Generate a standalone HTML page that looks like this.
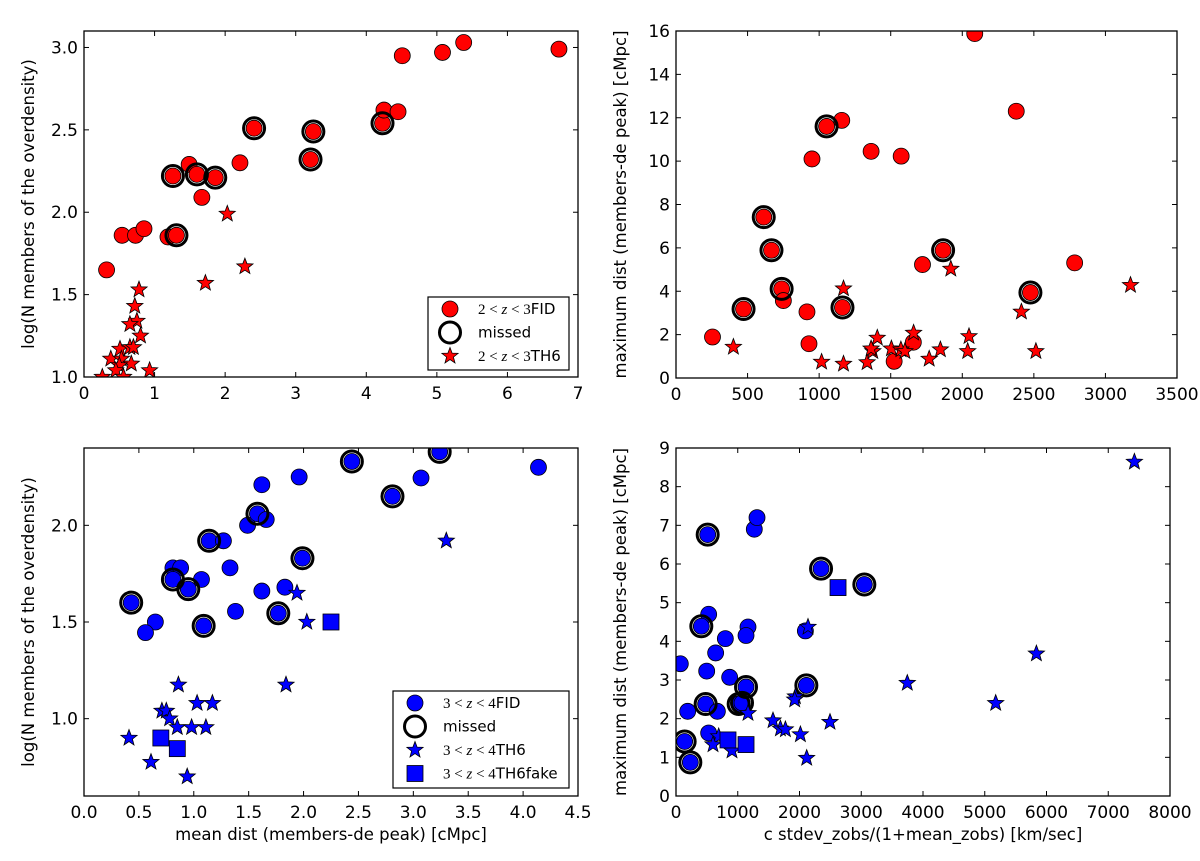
<!DOCTYPE html>
<html><head><meta charset="utf-8">
<style>
html,body{margin:0;padding:0;background:#fff;}
svg text{font-family:"DejaVu Sans","Liberation Sans",sans-serif;fill:#000;}
</style></head>
<body>
<svg id="fig" width="1200" height="856" viewBox="0 0 1200 856" xmlns="http://www.w3.org/2000/svg"></svg>
<script>
// ---------- Panel A (top-left) ----------
const aFidX=[0.32,0.54,0.73,0.85,1.19,1.31,1.26,1.49,1.60,1.86,1.67,2.21,2.41,3.21,3.25,4.23,4.25,4.45,4.51,5.08,5.38,6.73];
const aFidY=[1.65,1.86,1.86,1.90,1.85,1.86,2.22,2.29,2.23,2.21,2.09,2.30,2.51,2.32,2.49,2.54,2.62,2.61,2.95,2.97,3.03,2.99];
const aMissX=[1.31,1.26,1.60,1.86,2.41,3.21,3.25,4.23];
const aMissY=[1.86,2.22,2.23,2.21,2.51,2.32,2.49,2.54];
const aThX=[2.03,2.28,1.72,0.78,0.72,0.75,0.65,0.80,0.51,0.65,0.70,0.38,0.53,0.67,0.50,0.45,0.93,0.26,0.56];
const aThY=[1.99,1.67,1.57,1.53,1.43,1.34,1.32,1.25,1.17,1.18,1.18,1.11,1.11,1.08,1.07,1.04,1.04,1.00,1.00];
const aXTicks=[0,1,2,3,4,5,6,7];
const aXLabels=["0","1","2","3","4","5","6","7"];
const aYTicks=[1.0,1.5,2.0,2.5,3.0];
const aYLabels=["1.0","1.5","2.0","2.5","3.0"];
// ---------- Panel B (top-right) ----------
const bFidX=[255,472,613,667,738,750,915,929,950,1052,1158,1163,1363,1524,1573,1658,1722,1866,2087,2377,2476,2785];
const bFidY=[1.89,3.18,7.42,5.89,4.11,3.57,3.05,1.58,10.1,11.6,11.88,3.25,10.45,0.77,10.23,1.65,5.23,5.89,15.88,12.3,3.94,5.31];
const bMissX=[472,613,667,738,1052,1163,1866,2476];
const bMissY=[3.18,7.42,5.89,4.11,11.6,3.25,5.89,3.94];
const bThX=[401,1017,1170,1170,1335,1375,1406,1363,1505,1571,1599,1660,1769,1847,1920,2038,2047,2413,2514,3175];
const bThY=[1.43,0.74,0.65,4.12,0.72,1.23,1.85,1.35,1.35,1.31,1.23,2.08,0.88,1.31,5.03,1.23,1.92,3.05,1.23,4.28];
const bXTicks=[0,500,1000,1500,2000,2500,3000,3500];
const bXLabels=["0","500","1000","1500","2000","2500","3000","3500"];
const bYTicks=[0,2,4,6,8,10,12,14,16];
const bYLabels=["0","2","4","6","8","10","12","14","16"];
// ---------- Panel C (bottom-left) ----------
const cFidX=[0.43,0.65,0.56,0.81,0.88,0.81,0.95,1.07,1.14,1.27,1.33,1.38,1.09,1.49,1.62,1.58,1.66,1.62,1.83,1.77,1.96,1.99,2.44,2.81,3.07,3.24,4.14];
const cFidY=[1.60,1.50,1.445,1.78,1.78,1.72,1.67,1.72,1.92,1.92,1.78,1.555,1.48,2.00,2.21,2.06,2.03,1.66,1.68,1.545,2.25,1.83,2.33,2.15,2.245,2.38,2.30];
const cMissX=[0.43,0.81,0.95,1.14,1.09,1.58,1.77,1.99,2.44,2.81,3.24];
const cMissY=[1.60,1.72,1.67,1.92,1.48,2.06,1.545,1.83,2.33,2.15,2.38];
const cThX=[3.30,1.94,2.03,1.84,0.86,1.03,1.17,0.71,0.75,0.78,0.85,0.98,1.11,0.41,0.61,0.94];
const cThY=[1.92,1.65,1.50,1.175,1.175,1.08,1.08,1.04,1.04,1.00,0.955,0.955,0.955,0.90,0.775,0.70];
const cFakeX=[0.70,0.85,2.25];
const cFakeY=[0.90,0.845,1.50];
const cXTicks=[0,0.5,1,1.5,2,2.5,3,3.5,4,4.5];
const cXLabels=["0.0","0.5","1.0","1.5","2.0","2.5","3.0","3.5","4.0","4.5"];
const cYTicks=[1.0,1.5,2.0];
const cYLabels=["1.0","1.5","2.0"];
// ---------- Panel D (bottom-right) ----------
const dFidX=[70,513,1268,1312,529,410,1166,1134,799,642,497,869,1134,480,670,189,1015,1069,529,140,232,2095,2111,2349,3050];
const dFidY=[3.42,6.76,6.90,7.20,4.70,4.39,4.37,4.15,4.07,3.70,3.23,3.07,2.82,2.38,2.19,2.19,2.38,2.41,1.63,1.41,0.87,4.27,2.86,5.88,5.47];
const dMissX=[513,410,1134,480,1015,1069,140,232,2111,2349,3050];
const dMissY=[6.76,4.39,2.82,2.38,2.38,2.41,1.41,0.87,2.86,5.88,5.47];
const dThX=[7423,5836,3746,5177,2494,2138,1933,1922,1571,1690,1771,2014,2116,1166,691,599,907];
const dThY=[8.64,3.68,2.92,2.40,1.91,4.37,2.57,2.49,1.95,1.74,1.72,1.59,0.98,2.14,1.54,1.33,1.17];
const dFakeX=[842,1134,2624];
const dFakeY=[1.45,1.33,5.39];
const dXTicks=[0,1000,2000,3000,4000,5000,6000,7000,8000];
const dXLabels=["0","1000","2000","3000","4000","5000","6000","7000","8000"];
const dYTicks=[0,1,2,3,4,5,6,7,8,9];
const dYLabels=["0","1","2","3","4","5","6","7","8","9"];

const NS="http://www.w3.org/2000/svg";
const fig=document.getElementById('fig');
function mk(tag,attrs,parent){const e=document.createElementNS(NS,tag);for(const k in attrs)e.setAttribute(k,attrs[k]);(parent||fig).appendChild(e);return e;}
function starPts(cx,cy,R){const r=R*0.42;let p=[];for(let i=0;i<10;i++){const a=-Math.PI/2+i*Math.PI/5;const rr=i%2?r:R;p.push((cx+rr*Math.cos(a)).toFixed(1)+','+(cy+rr*Math.sin(a)).toFixed(1));}return p.join(' ');}

function panel(id,L,T,W,H,xmin,xmax,ymin,ymax,xt,xl,yt,yl,color,series,ylabel,xlabel){
  const sx=v=>L+(v-xmin)/(xmax-xmin)*W;
  const sy=v=>T+H-(v-ymin)/(ymax-ymin)*H;
  const g=mk('g',{});
  
  
  const cp=mk('clipPath',{id:'clip-'+id},g);
  mk('rect',{x:L,y:T,width:W,height:H},cp);
  const pg=mk('g',{'clip-path':'url(#clip-'+id+')'},g);
  
  
  // FID
  series.fidX.forEach((x,i)=>{const c=mk('circle',{cx:sx(x),cy:sy(series.fidY[i]),r:8,fill:color,stroke:'#000','stroke-width':0.8},pg);
    
    });
  series.missX.forEach((x,i)=>{const c=mk('circle',{cx:sx(x),cy:sy(series.missY[i]),r:10.5,fill:'none',stroke:'#000','stroke-width':3},pg);
    
    });
  series.thX.forEach((x,i)=>{const s=mk('polygon',{points:starPts(sx(x),sy(series.thY[i]),8.5),fill:color,stroke:'#000','stroke-width':0.8},pg);
    
    });
  if(series.fakeX) series.fakeX.forEach((x,i)=>{const s=mk('rect',{x:sx(x)-8,y:sy(series.fakeY[i])-8,width:16,height:16,fill:color,stroke:'#000','stroke-width':0.8},pg);
    
    });
  // frame
  const fr=mk('rect',{x:L,y:T,width:W,height:H,fill:'none',stroke:'#000','stroke-width':1.3},g);
  
  
  xt.forEach((v,i)=>{const x=sx(v);
    mk('line',{x1:x,y1:T+H,x2:x,y2:T+H-5,stroke:'#000','stroke-width':1},g);
    mk('line',{x1:x,y1:T,x2:x,y2:T+5,stroke:'#000','stroke-width':1},g);
    const t=mk('text',{x:x,y:T+H+22,'font-size':17,'text-anchor':'middle'},g);t.textContent=xl[i];
    
    });
  yt.forEach((v,i)=>{const y=sy(v);
    mk('line',{x1:L,y1:y,x2:L+5,y2:y,stroke:'#000','stroke-width':1},g);
    mk('line',{x1:L+W,y1:y,x2:L+W-5,y2:y,stroke:'#000','stroke-width':1},g);
    const t=mk('text',{x:L-6,y:y+6,'font-size':17,'text-anchor':'end'},g);t.textContent=yl[i];
    
    });
  const yl2=mk('text',{x:0,y:0,'font-size':16.5,'text-anchor':'middle',transform:'translate('+(L-50)+','+(T+H/2)+') rotate(-90)'},g);
  yl2.textContent=ylabel;
  
  
  if(xlabel){const xl2=mk('text',{x:L+W/2,y:T+H+44,'font-size':16.5,'text-anchor':'middle'},g);xl2.textContent=xlabel;
    
    }
}

panel('top-left',84,31,494,346,0,7,1.0,3.1,aXTicks,aXLabels,aYTicks,aYLabels,'#ff0000',
  {fidX:aFidX,fidY:aFidY,missX:aMissX,missY:aMissY,thX:aThX,thY:aThY},'log(N members of the overdensity)',null);
panel('top-right',676,31,501,347,0,3500,0,16,bXTicks,bXLabels,bYTicks,bYLabels,'#ff0000',
  {fidX:bFidX,fidY:bFidY,missX:bMissX,missY:bMissY,thX:bThX,thY:bThY},'maximum dist (members-de peak) [cMpc]',null);
panel('bottom-left',84,448,494,348,0,4.5,0.6,2.4,cXTicks,cXLabels,cYTicks,cYLabels,'#0000ff',
  {fidX:cFidX,fidY:cFidY,missX:cMissX,missY:cMissY,thX:cThX,thY:cThY,fakeX:cFakeX,fakeY:cFakeY},'log(N members of the overdensity)','mean dist (members-de peak) [cMpc]');
panel('bottom-right',676,448,494,348,0,8000,0,9,dXTicks,dXLabels,dYTicks,dYLabels,'#0000ff',
  {fidX:dFidX,fidY:dFidY,missX:dMissX,missY:dMissY,thX:dThX,thY:dThY,fakeX:dFakeX,fakeY:dFakeY},'maximum dist (members-de peak) [cMpc]','c stdev_zobs/(1+mean_zobs) [km/sec]');

function legend(name,x,y,w,h,entries,color){
  const g=mk('g',{});
  
  
  mk('rect',{x:x,y:y,width:w,height:h,fill:'#fff',stroke:'#000','stroke-width':1.2},g);
  entries.forEach((e,i)=>{const cy=y+12+i*23.5, mx=x+22;
    const eg=mk('g',{},g);
    
    
    if(e.m==='c') mk('circle',{cx:mx,cy:cy,r:8,fill:color,stroke:'#000','stroke-width':0.8},eg);
    if(e.m==='r') mk('circle',{cx:mx,cy:cy,r:10.5,fill:'none',stroke:'#000','stroke-width':3},eg);
    if(e.m==='s') mk('polygon',{points:starPts(mx,cy,8.5),fill:color,stroke:'#000','stroke-width':0.8},eg);
    if(e.m==='q') mk('rect',{x:mx-8,y:cy-8,width:16,height:16,fill:color,stroke:'#000','stroke-width':0.8},eg);
    const t=mk('text',{x:x+50,y:cy+5,'font-size':15},eg);
    if(e.z){const a=mk('tspan',{'font-family':'Liberation Serif, serif'},t);a.textContent=e.z[0]+' < ';
      const z=mk('tspan',{'font-family':'Liberation Serif, serif','font-style':'italic'},t);z.textContent='z';
      const b=mk('tspan',{'font-family':'Liberation Serif, serif'},t);b.textContent=' < '+e.z[1];
      const c=mk('tspan',{},t);c.textContent=e.t;}
    else t.textContent=e.t;
  });
}
legend('top-left-legend',428,297,141,73,[{m:'c',z:['2','3'],t:'FID'},{m:'r',t:'missed'},{m:'s',z:['2','3'],t:'TH6'}],'#ff0000');
legend('bottom-left-legend',393,691,176,97,[{m:'c',z:['3','4'],t:'FID'},{m:'r',t:'missed'},{m:'s',z:['3','4'],t:'TH6'},{m:'q',z:['3','4'],t:'TH6fake'}],'#0000ff');
</script>
</body></html>
